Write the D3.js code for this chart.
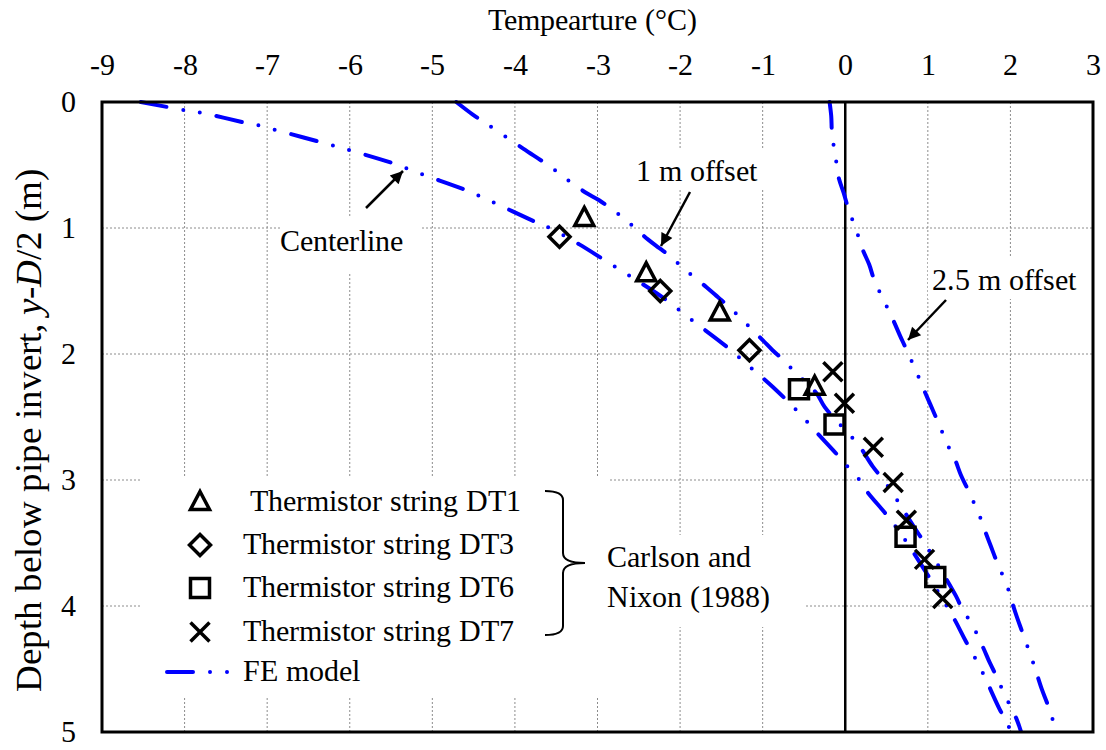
<!DOCTYPE html>
<html>
<head>
<meta charset="utf-8">
<script src="https://cdn.jsdelivr.net/npm/d3@7"></script>
<style>
  @font-face {
    font-family: "ChartSerif";
    src: local("Liberation Serif"), local("LiberationSerif"), local("LiberationSerif-Regular"),
         local("Times New Roman"), local("TimesNewRomanPSMT"), local("DejaVu Serif"), local("DejaVuSerif");
    font-style: normal;
  }
  @font-face {
    font-family: "ChartSerif";
    src: local("Liberation Serif Italic"), local("LiberationSerif-Italic"),
         local("Times New Roman Italic"), local("DejaVu Serif Italic"), local("DejaVuSerif-Italic");
    font-style: italic;
  }
  html, body { margin: 0; padding: 0; background: #fff; }
  svg text { font-family: "ChartSerif", "Liberation Serif", "Times New Roman", Times, "DejaVu Serif", serif; fill: #000; }
</style>
</head>
<body>
<svg id="chart" width="1106" height="750"></svg>
<script>
// Axis ticks
const tempTicks = [-9, -8, -7, -6, -5, -4, -3, -2, -1, 0, 1, 2, 3];
const depthTicks = [0, 1, 2, 3, 4, 5];

// FE model temperature profiles (temperature °C, depth m)
const feCenterTemp  = [-8.53, -7.98, -7.78, -7.25, -7.07, -6.88, -6.36, -5.98, -5.46, -5.11, -4.59, -4.25, -3.74, -3.58, -3.22, -2.95, -2.61, -2.17, -1.86, -1.44, -1.14, -0.88, -0.60, -0.35, -0.11, 0.01, 0.15, 0.25, 0.48, 0.60, 0.82, 1.30, 1.46, 1.65, 1.87, 1.97, 2.00];
const feCenterDepth = [0.00, 0.067, 0.087, 0.167, 0.19, 0.225, 0.317, 0.387, 0.49, 0.577, 0.70, 0.80, 0.955, 1.00, 1.13, 1.24, 1.38, 1.57, 1.73, 1.94, 2.11, 2.26, 2.44, 2.62, 2.79, 2.88, 2.98, 3.08, 3.26, 3.36, 3.57, 4.08, 4.28, 4.51, 4.82, 4.94, 5.00];

const fe1mTemp  = [-4.71, -4.51, -4.35, -3.90, -3.58, -3.36, -3.14, -2.98, -2.67, -2.39, -2.25, -2.09, -1.96, -1.68, -1.54, -1.40, -1.26, -1.00, -0.88, -0.73, -0.60, -0.35, -0.25, -0.12, 0.01, 0.17, 0.33, 0.45, 0.57, 0.82, 0.96, 1.34, 1.42, 1.53, 1.67, 1.75, 1.84, 1.92, 2.07, 2.13];
const fe1mDepth = [0.00, 0.10, 0.17, 0.37, 0.51, 0.62, 0.72, 0.78, 0.93, 1.09, 1.16, 1.24, 1.32, 1.47, 1.55, 1.63, 1.72, 1.89, 1.97, 2.06, 2.15, 2.31, 2.42, 2.52, 2.61, 2.73, 2.89, 2.99, 3.10, 3.36, 3.50, 3.92, 4.03, 4.14, 4.33, 4.45, 4.57, 4.69, 4.89, 5.00];

const fe25mTemp  = [-0.19, -0.17, -0.16, -0.11, -0.08, -0.02, 0.03, 0.15, 0.21, 0.29, 0.35, 0.50, 0.58, 0.66, 0.73, 0.88, 0.95, 1.03, 1.11, 1.26, 1.33, 1.40, 1.48, 1.63, 1.69, 1.76, 1.83, 1.97, 2.02, 2.08, 2.14, 2.26, 2.32, 2.38, 2.45, 2.56];
const fe25mDepth = [0.00, 0.11, 0.25, 0.47, 0.60, 0.72, 0.83, 1.05, 1.17, 1.29, 1.41, 1.62, 1.73, 1.85, 1.95, 2.17, 2.28, 2.40, 2.52, 2.75, 2.84, 2.96, 3.07, 3.29, 3.40, 3.52, 3.64, 3.86, 3.97, 4.09, 4.20, 4.42, 4.54, 4.66, 4.78, 5.00];

// Thermistor measurements, Carlson and Nixon (1988)
const dt1Temp  = [-3.16, -2.41, -1.52, -0.37];
const dt1Depth = [0.92, 1.36, 1.67, 2.26];
const dt3Temp  = [-3.46, -2.24, -1.16];
const dt3Depth = [1.07, 1.50, 1.97];
const dt6Temp  = [-0.56, -0.13, 0.73, 1.09];
const dt6Depth = [2.28, 2.56, 3.45, 3.77];
const dt7Temp  = [-0.15, -0.01, 0.34, 0.58, 0.74, 0.96, 1.18];
const dt7Depth = [2.14, 2.39, 2.74, 3.02, 3.32, 3.63, 3.94];

const legendLabels = [" Thermistor string DT1", "Thermistor string DT3", "Thermistor string DT6", "Thermistor string DT7", "FE model"];

(function draw() {
  const svg = d3.select("#chart");
  const pLeft = 102, pRight = 1093, pTop = 102, pBottom = 732;
  const x = d3.scaleLinear().domain([-9, 3]).range([pLeft, pRight]);
  const y = d3.scaleLinear().domain([0, 5]).range([pTop, pBottom]);

  const FONT = 30;
  const BLUE = "#0000ff";
  const DASH = "26,17,0,17,0,17";

  // dotted grid
  const grid = svg.append("g").attr("stroke", "#8c8c8c").attr("stroke-width", 1).attr("stroke-dasharray", "2,2");
  tempTicks.filter(t => t > -9 && t < 3 && t !== 0).forEach(t => {
    grid.append("line").attr("x1", x(t)).attr("x2", x(t)).attr("y1", pTop).attr("y2", pBottom);
  });
  depthTicks.filter(d => d > 0 && d < 5).forEach(d => {
    grid.append("line").attr("x1", pLeft).attr("x2", pRight).attr("y1", y(d)).attr("y2", y(d));
  });

  // white panels behind annotations and legend
  const panels = [
    [140, 477, 468, 220],
    [600, 535, 205, 92],
    [280, 218, 142, 54],
    [630, 150, 140, 40],
    [928, 258, 162, 41]
  ];
  svg.append("g").selectAll("rect").data(panels).join("rect")
    .attr("x", d => d[0]).attr("y", d => d[1]).attr("width", d => d[2]).attr("height", d => d[3])
    .attr("fill", "#fff");

  // zero-temperature line
  svg.append("line").attr("x1", x(0)).attr("x2", x(0)).attr("y1", pTop).attr("y2", pBottom)
    .attr("stroke", "#000").attr("stroke-width", 2.5);

  // FE curves
  const line = d3.line().x(d => x(d[0])).y(d => y(d[1])).curve(d3.curveCatmullRom.alpha(0.5));
  const profiles = [
    d3.zip(feCenterTemp, feCenterDepth),
    d3.zip(fe1mTemp, fe1mDepth),
    d3.zip(fe25mTemp, fe25mDepth)
  ];
  svg.append("clipPath").attr("id", "plotClip").append("rect")
    .attr("x", pLeft).attr("y", pTop - 2).attr("width", pRight - pLeft).attr("height", pBottom - pTop + 2);
  svg.append("g").attr("clip-path", "url(#plotClip)").selectAll("path").data(profiles).join("path")
    .attr("d", line)
    .attr("fill", "none").attr("stroke", BLUE).attr("stroke-width", 4)
    .attr("stroke-linecap", "round").attr("stroke-dasharray", DASH);

  // marker shapes
  function markerPath(kind) {
    switch (kind) {
      case "tri": return "M0,-10.5L9.5,7.5L-9.5,7.5Z";
      case "dia": return "M0,-10.5L10.5,0L0,10.5L-10.5,0Z";
      case "sq": return "M-9.5,-9.5H9.5V9.5H-9.5Z";
      case "x": return "M-9.5,-9.5L9.5,9.5M9.5,-9.5L-9.5,9.5";
    }
  }
  const measured = [
    ["tri", dt1Temp, dt1Depth],
    ["dia", dt3Temp, dt3Depth],
    ["sq", dt6Temp, dt6Depth],
    ["x", dt7Temp, dt7Depth]
  ];
  const mk = svg.append("g").attr("fill", "none").attr("stroke", "#000").attr("stroke-width", 3.5);
  measured.forEach(([kind, ts, ds]) => {
    mk.append("g").selectAll("path").data(d3.zip(ts, ds)).join("path")
      .attr("transform", d => `translate(${x(d[0])},${y(d[1])})`)
      .attr("d", markerPath(kind));
  });

  // frame
  svg.append("rect").attr("x", pLeft).attr("y", pTop).attr("width", pRight - pLeft).attr("height", pBottom - pTop)
    .attr("fill", "none").attr("stroke", "#000").attr("stroke-width", 3);

  // axes
  const xAxis = svg.append("g").attr("transform", `translate(0,${pTop})`)
    .call(d3.axisTop(x).tickValues(tempTicks).tickSize(0).tickPadding(27).tickFormat(d => String(d)));
  xAxis.attr("font-family", null).attr("font-size", null);
  xAxis.select(".domain").remove();
  xAxis.selectAll("text").style("font-size", FONT + "px");

  const yAxis = svg.append("g").attr("transform", `translate(${pLeft},0)`)
    .call(d3.axisLeft(y).tickValues(depthTicks).tickSize(0).tickPadding(26).tickFormat(d => String(d)));
  yAxis.attr("font-family", null).attr("font-size", null);
  yAxis.select(".domain").remove();
  yAxis.selectAll("text").style("font-size", FONT + "px");

  // axis titles
  svg.append("text").attr("x", 592).attr("y", 30).attr("text-anchor", "middle")
    .style("font-size", FONT + "px").text("Tempearture (°C)");

  const yt = svg.append("text").attr("transform", `translate(41,430) rotate(-90)`)
    .attr("text-anchor", "middle").style("font-size", "37px");
  yt.append("tspan").text("Depth below pipe invert, ");
  yt.append("tspan").style("font-style", "italic").text("y");
  yt.append("tspan").text("-");
  yt.append("tspan").style("font-style", "italic").text("D");
  yt.append("tspan").text("/2 (m)");

  // arrow annotations
  const defs = svg.append("defs");
  defs.append("marker").attr("id", "arrowHead").attr("viewBox", "0 0 10 10")
    .attr("refX", 10).attr("refY", 5).attr("markerWidth", 6).attr("markerHeight", 5)
    .attr("markerUnits", "strokeWidth").attr("orient", "auto")
    .append("path").attr("d", "M0,0L10,5L0,10Z").attr("fill", "#000");

  const notes = [
    { text: "Centerline", tx: 280, ty: 251, from: [366, 208], to: [403, 171] },
    { text: "1 m offset", tx: 636, ty: 181, from: [690, 192], to: [661, 246] },
    { text: "2.5 m offset", tx: 932, ty: 290, from: [946, 300], to: [908, 340] }
  ];
  notes.forEach(n => {
    svg.append("text").attr("x", n.tx).attr("y", n.ty).style("font-size", FONT + "px").text(n.text);
    svg.append("line").attr("x1", n.from[0]).attr("y1", n.from[1]).attr("x2", n.to[0]).attr("y2", n.to[1])
      .attr("stroke", "#000").attr("stroke-width", 2.5).attr("marker-end", "url(#arrowHead)");
  });

  // legend
  const rowY = [502, 545, 588, 632, 672];
  const legend = svg.append("g");
  ["tri", "dia", "sq", "x"].forEach((kind, i) => {
    legend.append("path").attr("transform", `translate(200,${rowY[i]})`).attr("d", markerPath(kind))
      .attr("fill", "none").attr("stroke", "#000").attr("stroke-width", 3.5);
  });
  legend.append("path").attr("d", `M167,${rowY[4]}H230`)
    .attr("fill", "none").attr("stroke", BLUE).attr("stroke-width", 4)
    .attr("stroke-linecap", "round").attr("stroke-dasharray", DASH);
  legendLabels.forEach((lab, i) => {
    legend.append("text").attr("x", 243).attr("y", rowY[i] + 9).style("white-space", "pre")
      .style("font-size", FONT + "px").text(lab);
  });

  // brace grouping the measured series
  svg.append("path")
    .attr("d", "M545,491 Q563,491 563,500 V553 Q563,563 585,563 Q563,563 563,573 V626 Q563,635 545,635")
    .attr("fill", "none").attr("stroke", "#000").attr("stroke-width", 2);
  svg.append("text").attr("x", 607).attr("y", 567).style("font-size", FONT + "px").text("Carlson and");
  svg.append("text").attr("x", 607).attr("y", 607).style("font-size", FONT + "px").text("Nixon (1988)");
})();
</script>
</body>
</html>
